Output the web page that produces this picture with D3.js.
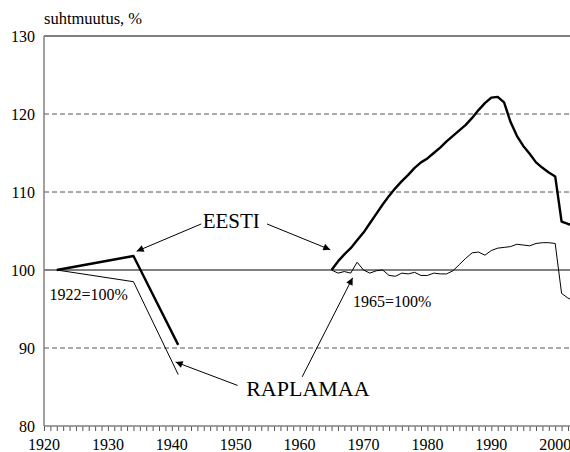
<!DOCTYPE html>
<meta charset="utf-8">
<style>
body { margin: 0; background: #fff; }
svg { display: block; }
svg text { font-family: "Liberation Serif", "Times New Roman", serif; }
.grid { stroke: #555; stroke-dasharray: 5,3; }
</style>
<body>
<svg width="570" height="452"></svg>
<script src="https://d3js.org/d3.v7.min.js"></script>
<script>
// 1922-1941, 1922 = 100
var yearsEarly = [1922, 1934, 1941];
var eestiEarly = [100, 101.8, 90.4];
var raplaEarly = [100, 98.5, 86.6];

// 1965-2003, 1965 = 100
var yearsLate = [1965, 1966, 1967, 1968, 1969, 1970, 1971, 1972, 1973, 1974,
  1975, 1976, 1977, 1978, 1979, 1980, 1981, 1982, 1983, 1984,
  1985, 1986, 1987, 1988, 1989, 1990, 1991, 1992, 1993, 1994,
  1995, 1996, 1997, 1998, 1999, 2000, 2001, 2002, 2003];
var eestiLate = [100.0, 101.1, 102.0, 102.8, 103.8, 104.8, 106.0, 107.2, 108.4, 109.5,
  110.5, 111.4, 112.2, 113.1, 113.8, 114.3, 115.0, 115.7, 116.5, 117.2,
  117.9, 118.6, 119.5, 120.5, 121.4, 122.1, 122.2, 121.5, 119.0, 117.2,
  115.9, 114.9, 113.8, 113.1, 112.5, 112.0, 106.2, 105.9, 105.7];
var raplaLate = [100.0, 99.6, 99.8, 99.6, 101.0, 100.0, 99.6, 99.9, 100.0, 99.3,
  99.2, 99.6, 99.5, 99.7, 99.3, 99.3, 99.6, 99.5, 99.5, 99.9,
  100.7, 101.5, 102.2, 102.3, 101.9, 102.5, 102.8, 102.9, 103.0, 103.3,
  103.2, 103.1, 103.4, 103.5, 103.5, 103.4, 97.0, 96.4, 96.0];

var yTicks = [80, 90, 100, 110, 120, 130];
var xLabels = [1920, 1930, 1940, 1950, 1960, 1970, 1980, 1990, 2000];

// labels: text, anchor point [year, value]
var labels = [
  {text: "EESTI", at: [1949.3, 105.4], size: 21},
  {text: "RAPLAMAA", at: [1961.3, 83.8], size: 22},
  {text: "1922=100%", at: [1927.0, 96.2], size: 16},
  {text: "1965=100%", at: [1974.5, 95.2], size: 16}
];
// arrows: from [year, value] to [year, value]
var arrows = [
  [[1944.6, 105.9], [1934.5, 102.4]],
  [[1954.9, 105.9], [1964.8, 102.6]],
  [[1950.3, 85.2], [1940.6, 88.2]],
  [[1960.4, 86.3], [1968.3, 99.0]]
];

var svg = d3.select("svg");
var x = d3.scaleLinear().domain([1920, 2000]).range([44, 555.2]);
var y = d3.scaleLinear().domain([80, 130]).range([426, 36]);
var right = 570;

svg.append("defs").append("marker")
    .attr("id", "arr")
    .attr("viewBox", "0 0 10 10")
    .attr("refX", 10).attr("refY", 5)
    .attr("markerWidth", 9).attr("markerHeight", 7)
    .attr("markerUnits", "userSpaceOnUse")
    .attr("orient", "auto")
  .append("path")
    .attr("d", "M0,0L10,5L0,10z")
    .attr("fill", "#000");

// gridlines
svg.selectAll(".grid")
  .data([90, 110, 120])
  .enter().append("line")
    .attr("class", "grid")
    .attr("x1", x(1920)).attr("x2", right)
    .attr("y1", function(d) { return y(d); })
    .attr("y2", function(d) { return y(d); });

svg.append("line")
    .attr("x1", x(1920)).attr("x2", right)
    .attr("y1", y(100)).attr("y2", y(100))
    .attr("stroke", "#000").attr("stroke-width", 1);

svg.append("line")
    .attr("x1", x(1920)).attr("x2", right)
    .attr("y1", y(130)).attr("y2", y(130))
    .attr("stroke", "#000").attr("stroke-width", 1.2);

// axes
var xAxis = d3.axisBottom(x)
    .tickValues(d3.range(1920, 2003))
    .tickSize(5)
    .tickFormat("");
var gx = svg.append("g")
    .attr("transform", "translate(0," + y(80) + ")")
    .call(xAxis);
gx.select(".domain").remove();
gx.selectAll(".tick line").attr("stroke", "#555");
gx.append("line")
    .attr("x1", x(1920)).attr("x2", right)
    .attr("stroke", "#808080").attr("stroke-width", 1.5);

svg.append("g").selectAll("text")
  .data(xLabels)
  .enter().append("text")
    .attr("x", function(d) { return x(d); })
    .attr("y", 450)
    .attr("text-anchor", "middle")
    .style("font-size", "16px")
    .text(function(d) { return d; });

svg.append("line")
    .attr("x1", x(1920)).attr("x2", x(1920))
    .attr("y1", y(130)).attr("y2", y(80))
    .attr("stroke", "#808080").attr("stroke-width", 1.5);

svg.append("g").selectAll("text")
  .data(yTicks)
  .enter().append("text")
    .attr("x", 35)
    .attr("y", function(d) { return y(d); })
    .attr("dy", "0.36em")
    .attr("text-anchor", "end")
    .style("font-size", "16px")
    .text(function(d) { return d; });

svg.append("text")
    .attr("x", 44).attr("y", 24)
    .style("font-size", "16.5px")
    .text("suhtmuutus, %");

// lines
var line = d3.line()
    .x(function(d) { return x(d[0]); })
    .y(function(d) { return y(d[1]); });

function pairs(xs, ys) { return xs.map(function(v, i) { return [v, ys[i]]; }); }

svg.append("g").selectAll("path")
  .data([
    {v: pairs(yearsEarly, raplaEarly), w: 1},
    {v: pairs(yearsLate, raplaLate), w: 1},
    {v: pairs(yearsEarly, eestiEarly), w: 2.4},
    {v: pairs(yearsLate, eestiLate), w: 2.4}
  ])
  .enter().append("path")
    .attr("d", function(d) { return line(d.v); })
    .attr("fill", "none")
    .attr("stroke", "#000")
    .attr("stroke-width", function(d) { return d.w; })
    .attr("stroke-linejoin", "round");

// annotations
svg.append("g").selectAll("line")
  .data(arrows)
  .enter().append("line")
    .attr("x1", function(d) { return x(d[0][0]); })
    .attr("y1", function(d) { return y(d[0][1]); })
    .attr("x2", function(d) { return x(d[1][0]); })
    .attr("y2", function(d) { return y(d[1][1]); })
    .attr("stroke", "#000").attr("stroke-width", 1)
    .attr("marker-end", "url(#arr)");

svg.append("g").selectAll("text")
  .data(labels)
  .enter().append("text")
    .attr("x", function(d) { return x(d.at[0]); })
    .attr("y", function(d) { return y(d.at[1]); })
    .attr("text-anchor", "middle")
    .style("font-size", function(d) { return d.size + "px"; })
    .text(function(d) { return d.text; });
</script>
</body>
